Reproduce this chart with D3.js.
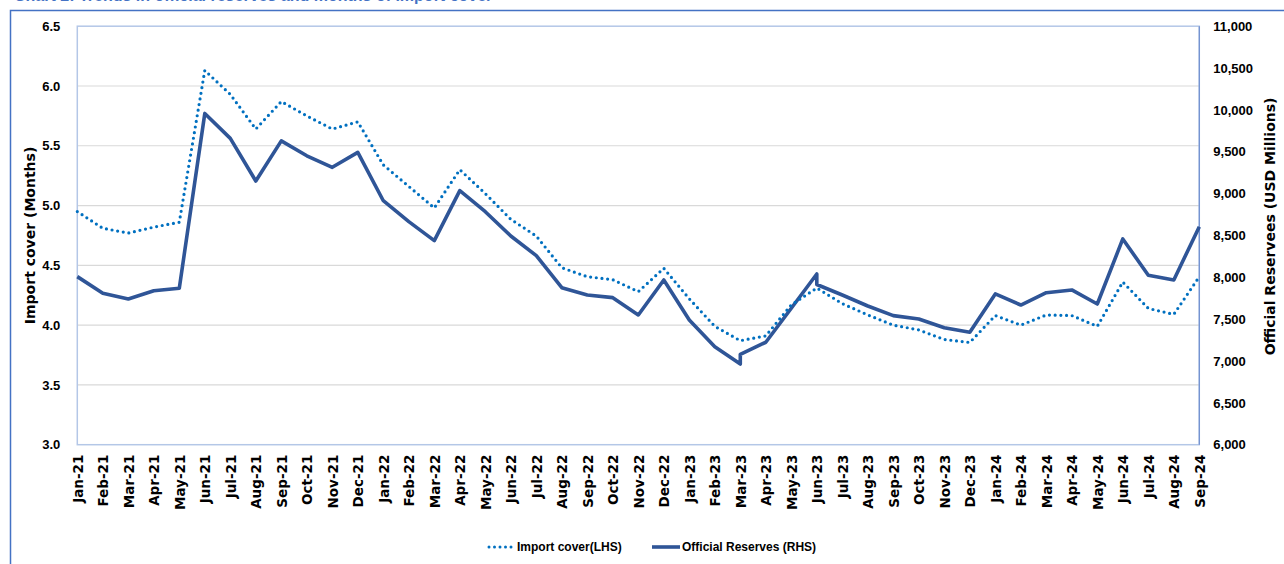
<!DOCTYPE html>
<html>
<head>
<meta charset="utf-8">
<script src="https://cdn.jsdelivr.net/npm/d3@7"></script>
<style>
  html, body { margin: 0; padding: 0; background: #ffffff; }
  svg { display: block; }
</style>
</head>
<body>
<svg id="chart" width="1284" height="564"></svg>
<script>
// ---------------- DATA ----------------
const months = [
  "Jan-21","Feb-21","Mar-21","Apr-21","May-21","Jun-21","Jul-21","Aug-21","Sep-21","Oct-21","Nov-21","Dec-21",
  "Jan-22","Feb-22","Mar-22","Apr-22","May-22","Jun-22","Jul-22","Aug-22","Sep-22","Oct-22","Nov-22","Dec-22",
  "Jan-23","Feb-23","Mar-23","Apr-23","May-23","Jun-23","Jul-23","Aug-23","Sep-23","Oct-23","Nov-23","Dec-23",
  "Jan-24","Feb-24","Mar-24","Apr-24","May-24","Jun-24","Jul-24","Aug-24","Sep-24"
];

// Import cover (months) - left axis
const importCover = [
  4.95, 4.81, 4.77, 4.82, 4.86, 6.13, 5.93, 5.64, 5.87, 5.75, 5.64, 5.70,
  5.34, 5.16, 4.98, 5.30, 5.10, 4.885, 4.745, 4.48, 4.405, 4.38, 4.28, 4.475,
  4.22, 3.99, 3.87, 3.91, 4.17, 4.31, 4.18, 4.085, 4.00, 3.96, 3.88, 3.855,
  4.08, 4.00, 4.085, 4.08, 3.99, 4.36, 4.14, 4.09, 4.405
];

// Official reserves (USD millions) - right axis (Mar-23 and Jun-23 carry two readings)
const reserveMonths = [
  "Jan-21","Feb-21","Mar-21","Apr-21","May-21","Jun-21","Jul-21","Aug-21","Sep-21","Oct-21","Nov-21","Dec-21",
  "Jan-22","Feb-22","Mar-22","Apr-22","May-22","Jun-22","Jul-22","Aug-22","Sep-22","Oct-22","Nov-22","Dec-22",
  "Jan-23","Feb-23","Mar-23","Mar-23","Apr-23","May-23","Jun-23","Jun-23","Jul-23","Aug-23","Sep-23","Oct-23","Nov-23","Dec-23",
  "Jan-24","Feb-24","Mar-24","Apr-24","May-24","Jun-24","Jul-24","Aug-24","Sep-24"
];
const reserveValues = [
  8008, 7809, 7741, 7840, 7869, 9958, 9660, 9150, 9630, 9452, 9314, 9493,
  8915, 8665, 8438, 9035, 8784, 8494, 8259, 7876, 7789, 7757, 7550, 7968,
  7490, 7171, 6964, 7080, 7224, 7630, 8040, 7914, 7789, 7657, 7542, 7502, 7398, 7343,
  7801, 7669, 7816, 7849, 7681, 8458, 8024, 7968, 8605
];

const leftTicks = [3.0, 3.5, 4.0, 4.5, 5.0, 5.5, 6.0, 6.5];
const rightTicks = [6000, 6500, 7000, 7500, 8000, 8500, 9000, 9500, 10000, 10500, 11000];

const seriesNames = ["Import cover(LHS)", "Official Reserves (RHS)"];
const leftTitle = "Import cover (Months)";
const rightTitle = "Official Reservees (USD Millions)";
const chartTitle = "Chart 2: Trends in official reserves and months of import cover";

// ---------------- LAYOUT ----------------
const plot = { left: 77.3, right: 1199.3, top: 26.2, bottom: 444.7 };
const svg = d3.select("#chart");

const x = d3.scalePoint().domain(months).range([plot.left, plot.right]);
const yL = d3.scaleLinear().domain([3.0, 6.5]).range([plot.bottom, plot.top]);
const yR = d3.scaleLinear().domain([6000, 11000]).range([plot.bottom, plot.top]);

const labelFont = "'Liberation Sans', Arial, sans-serif";
const wideFont = "'DejaVu Sans', Verdana, sans-serif";

// background
svg.append("rect").attr("width", 1284).attr("height", 564).attr("fill", "#ffffff");

// cut-off title at top (the reference shows only the bottom edge of it)
svg.append("text")
  .attr("x", 14).attr("y", 0.5)
  .attr("font-family", labelFont).attr("font-weight", "bold").attr("font-size", 16)
  .attr("fill", "#4472C4")
  .text(chartTitle);

// outer frame (top & left)
svg.append("path")
  .attr("d", "M10.5,564 V10.5 H1284")
  .attr("fill", "none").attr("stroke", "#4472C4").attr("stroke-width", 1.5);

// gridlines (left ticks)
svg.append("g").selectAll("line").data(leftTicks.slice(1, -1)).join("line")
  .attr("x1", plot.left).attr("x2", plot.right)
  .attr("y1", d => yL(d)).attr("y2", d => yL(d))
  .attr("stroke", "#d9d9d9").attr("stroke-width", 1.2);

// plot border
svg.append("rect")
  .attr("x", plot.left).attr("y", plot.top)
  .attr("width", plot.right - plot.left).attr("height", plot.bottom - plot.top)
  .attr("fill", "none").attr("stroke", "#b4c7e7").attr("stroke-width", 1.5);
svg.append("line")
  .attr("x1", plot.right).attr("x2", plot.right).attr("y1", plot.top).attr("y2", plot.bottom)
  .attr("stroke", "#6f8fcf").attr("stroke-width", 1.2);

// left axis labels
const gL = svg.append("g").attr("transform", `translate(${plot.left},0)`)
  .call(d3.axisLeft(yL).tickValues(leftTicks).tickFormat(d3.format(".1f")).tickSize(0).tickPadding(17));
gL.select(".domain").remove();
gL.selectAll("text").attr("font-family", labelFont).attr("font-weight", "bold")
  .attr("font-size", 13).attr("fill", "#000");

// right axis labels
const gR = svg.append("g").attr("transform", `translate(${plot.right},0)`)
  .call(d3.axisRight(yR).tickValues(rightTicks).tickFormat(d3.format(",")).tickSize(0).tickPadding(14));
gR.select(".domain").remove();
gR.selectAll("text").attr("font-family", labelFont).attr("font-weight", "bold")
  .attr("font-size", 13).attr("fill", "#000");

// x axis labels (rotated)
const gX = svg.append("g").attr("transform", `translate(0,${plot.bottom})`)
  .call(d3.axisBottom(x).tickSize(0).tickPadding(0));
gX.select(".domain").remove();
gX.selectAll("text")
  .attr("font-family", wideFont).attr("font-weight", "bold").attr("font-size", 13.5)
  .attr("fill", "#000")
  .attr("text-anchor", "end")
  .attr("dy", "0.35em")
  .attr("transform", "translate(0,10) rotate(-90)")
  .attr("x", 0).attr("y", 0);

// axis titles
svg.append("text")
  .attr("transform", `translate(35,${(plot.top + plot.bottom) / 2}) rotate(-90)`)
  .attr("text-anchor", "middle")
  .attr("font-family", wideFont).attr("font-weight", "bold").attr("font-size", 14)
  .attr("fill", "#000").text(leftTitle);
svg.append("text")
  .attr("transform", `translate(1275,${(plot.top + plot.bottom) / 2 - 9}) rotate(-90)`)
  .attr("text-anchor", "middle")
  .attr("font-family", wideFont).attr("font-weight", "bold").attr("font-size", 14)
  .attr("fill", "#000").text(rightTitle);

// lines
const lineL = d3.line().x((d, i) => x(months[i])).y(d => yL(d));
const lineR = d3.line().x(d => x(d.m)).y(d => yR(d.v));
const reservePts = reserveMonths.map((m, i) => ({ m, v: reserveValues[i] }));

svg.append("path").datum(reservePts)
  .attr("d", lineR).attr("fill", "none")
  .attr("stroke", "#2F5597").attr("stroke-width", 3.6)
  .attr("stroke-linejoin", "round");

svg.append("path").datum(importCover)
  .attr("d", lineL).attr("fill", "none")
  .attr("stroke", "#0070C0").attr("stroke-width", 3.2)
  .attr("stroke-linecap", "round").attr("stroke-dasharray", "0 5.7");

// legend
const legY = 547;
const leg = svg.append("g");
leg.append("line").attr("x1", 489).attr("x2", 514).attr("y1", legY).attr("y2", legY)
  .attr("stroke", "#0070C0").attr("stroke-width", 3).attr("stroke-linecap", "round")
  .attr("stroke-dasharray", "0 5.5");
leg.append("text").attr("x", 517).attr("y", legY).attr("dy", "0.36em")
  .attr("font-family", labelFont).attr("font-weight", "bold").attr("font-size", 12)
  .attr("fill", "#000").text(seriesNames[0]);
leg.append("line").attr("x1", 652).attr("x2", 680).attr("y1", legY).attr("y2", legY)
  .attr("stroke", "#2F5597").attr("stroke-width", 3.6);
leg.append("text").attr("x", 682).attr("y", legY).attr("dy", "0.36em")
  .attr("font-family", labelFont).attr("font-weight", "bold").attr("font-size", 12)
  .attr("fill", "#000").text(seriesNames[1]);
</script>
</body>
</html>
